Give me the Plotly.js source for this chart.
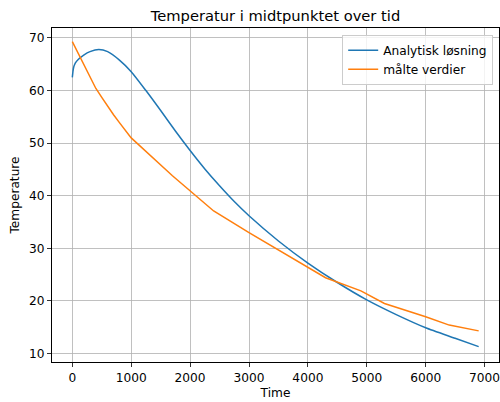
<!DOCTYPE html>
<html>
<head>
<meta charset="utf-8">
<script src="https://cdn.plot.ly/plotly-3.0.1.min.js"></script>
<style>html,body{margin:0;padding:0;background:#fff;}#chart{width:500px;height:402px;}</style>
</head>
<body>
<div id="chart"></div>
<script>
// Analytic solution
const analyticTime = [0, 20, 50, 100, 200, 300, 450, 600, 800, 1000, 1250, 1500, 1750, 2000, 2250, 2500, 2750, 3000, 3500, 4000, 4500, 5000, 5500, 6000, 6500, 6900];
const analyticTemp = [62.5, 64.3, 65.2, 65.9, 66.8, 67.4, 67.8, 67.4, 65.8, 63.6, 60.0, 56.2, 52.3, 48.6, 45.1, 41.9, 38.9, 36.2, 31.4, 27.2, 23.5, 20.2, 17.4, 14.9, 12.9, 11.3];
// Measured values
const measuredTime = [0, 100, 200, 300, 400, 500, 600, 700, 800, 900, 1000, 1700, 2400, 3000, 3500, 4300, 4900, 5300, 6000, 6400, 6900];
const measuredTemp = [69.3, 67.0, 64.7, 62.5, 60.4, 58.7, 57.0, 55.4, 53.9, 52.4, 51.0, 43.8, 37.1, 33.0, 29.7, 24.4, 21.9, 19.5, 17.0, 15.4, 14.3];

const names = ["Analytisk løsning", "målte verdier"];
const titleText = "Temperatur i midtpunktet over tid";
const xLabel = "Time";
const yLabel = "Temperature";
const xTicks = [0, 1000, 2000, 3000, 4000, 5000, 6000, 7000];
const yTicks = [10, 20, 30, 40, 50, 60, 70];

const font = "DejaVu Sans, sans-serif";
const fs = 12.2;
const traces = [
  {x: analyticTime, y: analyticTemp, name: names[0], mode: "lines", line: {color: "#1f77b4", width: 1.5, shape: "spline", smoothing: 0.6}},
  {x: measuredTime, y: measuredTemp, name: names[1], mode: "lines", line: {color: "#ff7f0e", width: 1.5}}
];
const axisCommon = {
  showline: true, mirror: true, linecolor: "#000", linewidth: 1,
  showgrid: true, gridcolor: "#b0b0b0", gridwidth: 0.8,
  ticks: "outside", ticklen: 4, tickcolor: "#000", tickwidth: 0.8,
  zeroline: false, tickfont: {family: font, size: fs, color: "#000"},
  ticklabeloverflow: "allow"
};
const layout = {
  width: 500, height: 402,
  margin: {l: 52, r: 1, t: 28, b: 40},
  paper_bgcolor: "#fff", plot_bgcolor: "#fff",
  font: {family: font, color: "#000"},
  title: {text: titleText, font: {family: font, size: 14.7, color: "#000"}, x: 0.551, xanchor: "center", y: 1 - 16/402, yanchor: "middle"},
  xaxis: Object.assign({}, axisCommon, {range: [-345, 7245], tickvals: xTicks, ticktext: xTicks.map(String),
    title: {text: xLabel, font: {family: font, size: fs, color: "#000"}, standoff: 4}}),
  yaxis: Object.assign({}, axisCommon, {range: [8.38, 71.9], tickvals: yTicks, ticktext: yTicks.map(String),
    title: {text: yLabel, font: {family: font, size: fs, color: "#000"}, standoff: 6}}),
  showlegend: true,
  legend: {x: 0.987, xanchor: "right", y: 0.98, yanchor: "top", bgcolor: "rgba(255,255,255,0.8)", bordercolor: "#cccccc", borderwidth: 1,
    font: {family: font, size: fs, color: "#000"}, itemwidth: 30, tracegroupgap: 0}
};
Plotly.newPlot("chart", traces, layout, {displayModeBar: false, staticPlot: true});
</script>
</body>
</html>
